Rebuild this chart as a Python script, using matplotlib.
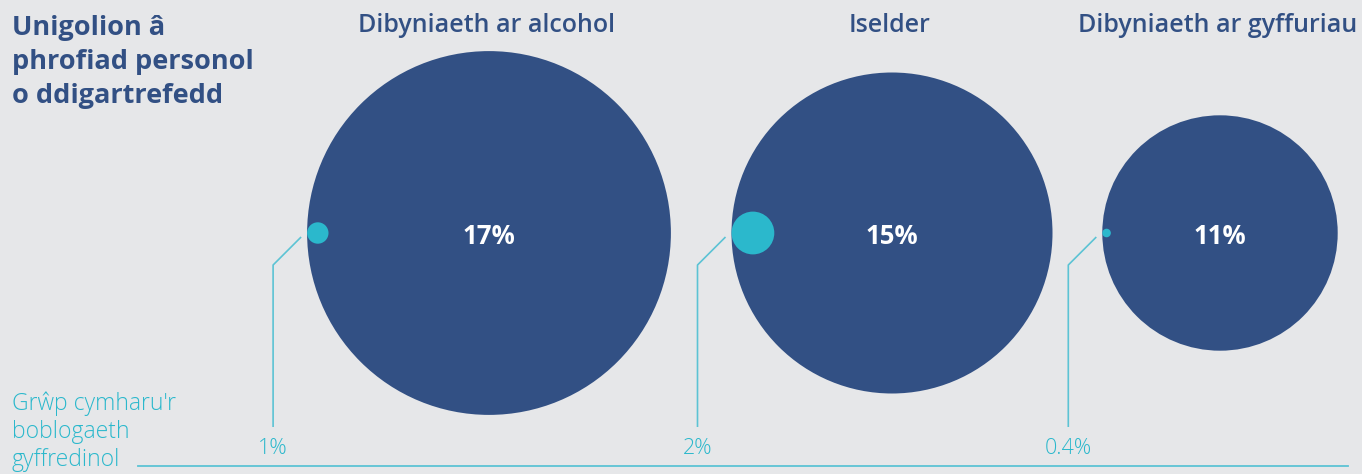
import matplotlib
matplotlib.use("Agg")
import matplotlib.pyplot as plt
from matplotlib.patches import Circle

# ---- data ----
categories = ["Dibyniaeth ar alcohol", "Iselder", "Dibyniaeth ar gyffuriau"]
homeless_pct = [17, 15, 11]          # Unigolion â phrofiad personol o ddigartrefedd
general_pct = [1, 2, 0.4]            # Grŵp cymharu'r boblogaeth gyffredinol
general_labels = ["1%", "2%", "0.4%"]
homeless_labels = ["17%", "15%", "11%"]
title_lines = ["Unigolion â", "phrofiad personol", "o ddigartrefedd"]
comp_lines = ["Grŵp cymharu'r", "boblogaeth", "gyffredinol"]

# ---- style ----
BG = "#e6e7e9"
BLUE = "#325084"
TEAL = "#2bb8cc"
LINE = "#5cc3d4"
FONT = "Open Sans"

W, H = 1362, 474
fig = plt.figure(figsize=(W / 100, H / 100), dpi=100, facecolor=BG)
ax = fig.add_axes([0, 0, 1, 1])
ax.set_xlim(0, W)
ax.set_ylim(H, 0)
ax.set_aspect("equal")
ax.axis("off")
ax.set_facecolor(BG)

scale = 10.7            # pixels of radius per percentage point
centers_x = [489, 892, 1220]
cy = 233
title_y = 25
leader_bottom = 427
label_y = 449
baseline_y = 466

for cx, cat, v, lab, g, glab in zip(centers_x, categories, homeless_pct,
                                     homeless_labels, general_pct, general_labels):
    r = v * scale
    ax.add_patch(Circle((cx, cy), r, facecolor=BLUE, edgecolor="none", zorder=2))
    ax.text(cx, cy + 3, lab, ha="center", va="center", color="white",
            fontsize=18.5, fontweight="bold", family=FONT, zorder=4)
    ax.text(cx - 2, title_y, cat, ha="center", va="center", color=BLUE,
            fontsize=18, fontweight="semibold", family=FONT)
    left = cx - r
    rs = g * scale
    ax.add_patch(Circle((left + rs, cy), rs, facecolor=TEAL, edgecolor="none", zorder=3))
    x0, y0 = left - 6, cy + 4
    ax.plot([x0, x0 - 28, x0 - 28], [y0, y0 + 28, leader_bottom],
            color=LINE, lw=1.2, solid_capstyle="butt", zorder=1)
    ax.text(x0 - 28, label_y, glab, ha="center", va="center", color=TEAL,
            fontsize=15.5, family=FONT, fontweight="light")

ax.plot([138, 1348], [baseline_y, baseline_y], color=LINE, lw=1.3, zorder=1)

for i, t in enumerate(title_lines):
    ax.text(12, 35 + i * 34, t, ha="left", va="baseline", color=BLUE,
            fontsize=19.5, fontweight="bold", family=FONT)

for i, t in enumerate(comp_lines):
    ax.text(12, 410 + i * 28, t, ha="left", va="baseline", color=TEAL,
            fontsize=16.5, fontweight="light", family=FONT)

fig.savefig("out.png", dpi=100, facecolor=BG)
